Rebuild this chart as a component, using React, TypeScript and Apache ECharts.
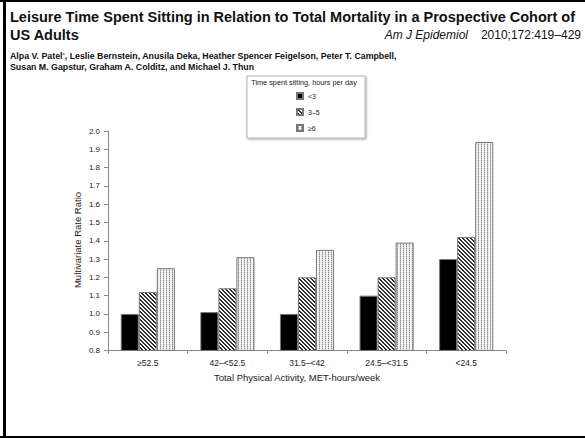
import React, { useEffect, useRef } from "react";
import * as echarts from "echarts";

// Total physical activity groups (MET-hours/week)
const categories = ["≥52.5", "42–<52.5", "31.5–<42", "24.5–<31.5", "<24.5"];
// Time spent sitting, hours per day
const seriesNames = ["<3", "3–5", "≥6"];
const sitLessThan3 = [1.0, 1.01, 1.0, 1.1, 1.3];
const sit3to5 = [1.12, 1.14, 1.2, 1.2, 1.42];
const sit6plus = [1.25, 1.31, 1.35, 1.39, 1.94];

const yMin = 0.8;
const yMax = 2.0;
const yStep = 0.1;

const FONT = "'Liberation Sans', Arial, Helvetica, sans-serif";

// Small repeating tiles used to fill the bars
function tile(w: number, h: number, paint: (x: number, y: number) => string) {
  const c = document.createElement("canvas");
  c.width = w;
  c.height = h;
  const g = c.getContext("2d")!;
  for (let y = 0; y < h; y++) {
    for (let x = 0; x < w; x++) {
      g.fillStyle = paint(x, y);
      g.fillRect(x, y, 1, 1);
    }
  }
  return {
    image: c.toDataURL(),
    repeat: "repeat",
    imageWidth: w,
    imageHeight: h,
  } as any;
}

export default function App() {
  const ref = useRef<HTMLDivElement>(null);

  useEffect(() => {
    if (!ref.current) return;
    const chart = echarts.init(ref.current, undefined, { renderer: "svg" });

    const hatch = tile(4, 4, (x, y) => (((x - y + 8) % 4) < 2 ? "#2e2e2e" : "#ffffff"));
    const dots = tile(3, 2, (x, y) => (x === 1 ? (y === 0 ? "#8a8a8a" : "#c8c8c8") : "#f2f2f2"));

    const barStyle = (color: any) => ({
      color,
      borderColor: "#777",
      borderWidth: 1,
    });

    const text = (
      t: string,
      x: number,
      y: number,
      size: number,
      extra: Record<string, any> = {}
    ) => ({
      type: "text",
      x,
      y,
      z: 10,
      style: {
        text: t,
        fill: "#111",
        fontFamily: FONT,
        fontSize: size,
        textAlign: "left",
        textVerticalAlign: "middle",
        ...extra,
      },
    });

    chart.setOption({
      animation: false,
      backgroundColor: "#ffffff",
      grid: { left: 108, right: 79, top: 131, bottom: 87.5 },
      xAxis: {
        type: "category",
        data: categories,
        axisLine: { lineStyle: { color: "#888", width: 1 } },
        axisTick: { show: true, length: 3, lineStyle: { color: "#888" } },
        axisLabel: { color: "#222", fontFamily: FONT, fontSize: 8.5, margin: 8 },
      },
      yAxis: {
        type: "value",
        min: yMin,
        max: yMax,
        interval: yStep,
        axisLine: { show: true, lineStyle: { color: "#888", width: 1 } },
        axisTick: { show: true, length: 4, lineStyle: { color: "#888" } },
        splitLine: { show: false },
        axisLabel: {
          color: "#222",
          fontFamily: FONT,
          fontSize: 8,
          margin: 8,
          formatter: (v: number) => v.toFixed(1),
        },
      },
      legend: {
        orient: "vertical",
        left: 296,
        top: 92,
        padding: 0,
        itemWidth: 6,
        itemHeight: 6,
        itemGap: 8,
        icon: "rect",
        data: seriesNames,
        textStyle: { fontFamily: FONT, fontSize: 7, color: "#222", lineHeight: 8 },
      },
      series: [
        {
          name: seriesNames[0],
          type: "bar",
          data: sitLessThan3,
          barGap: "0%",
          barCategoryGap: "32%",
          itemStyle: barStyle("#000000"),
        },
        {
          name: seriesNames[1],
          type: "bar",
          data: sit3to5,
          barGap: "0%",
          barCategoryGap: "32%",
          itemStyle: barStyle(hatch),
        },
        {
          name: seriesNames[2],
          type: "bar",
          data: sit6plus,
          barGap: "0%",
          barCategoryGap: "32%",
          itemStyle: barStyle(dots),
        },
      ],
      graphic: [
        // page frame
        { type: "rect", z: 20, shape: { x: 0, y: 0, width: 585, height: 2 }, style: { fill: "#000" } },
        { type: "rect", z: 20, shape: { x: 3, y: 0, width: 3, height: 438 }, style: { fill: "#000" } },
        { type: "rect", z: 20, shape: { x: 0, y: 436, width: 585, height: 2 }, style: { fill: "#000" } },
        // legend box
        {
          type: "rect",
          z: 0,
          shape: { x: 247, y: 76, width: 118, height: 62 },
          style: {
            fill: "#fff",
            stroke: "#b5b5b5",
            lineWidth: 1,
            shadowBlur: 2,
            shadowOffsetX: 1,
            shadowOffsetY: 1,
            shadowColor: "rgba(0,0,0,0.35)",
          },
        },
        text("Time spent sitting, hours per day", 304, 82.5, 7.3, { textAlign: "center", fill: "#222" }),
        // heading
        text(
          "Leisure Time Spent Sitting in Relation to Total Mortality in a Prospective Cohort of",
          10,
          16.5,
          14.5,
          { fontWeight: "bold" }
        ),
        text("US Adults", 10, 34.5, 14.5, { fontWeight: "bold" }),
        text("Am J Epidemiol", 468, 34.5, 12, { textAlign: "right", fontStyle: "italic" }),
        text("2010;172:419–429", 581, 34.5, 12, { textAlign: "right" }),
        {
          type: "text",
          x: 10,
          y: 56,
          z: 10,
          style: {
            text:
              "{b|Alpa V. Patel}{s|*}{b|, Leslie Bernstein, Anusila Deka, Heather Spencer Feigelson, Peter T. Campbell,}",
            textVerticalAlign: "middle",
            rich: {
              b: { fontFamily: FONT, fontSize: 8.8, fontWeight: "bold", fill: "#111" },
              s: { fontFamily: FONT, fontSize: 6, fontWeight: "bold", fill: "#555", verticalAlign: "top" },
            },
          },
        },
        text("Susan M. Gapstur, Graham A. Colditz, and Michael J. Thun", 10, 66.5, 8.8, { fontWeight: "bold" }),
        // axis titles
        {
          ...text("Multivariate Rate Ratio", 77, 240, 9.5, { textAlign: "center", fill: "#222" }),
          rotation: Math.PI / 2,
        },
        text("Total Physical Activity, MET-hours/week", 297, 377, 9.5, {
          textAlign: "center",
          fill: "#222",
        }),
      ],
    });

    return () => chart.dispose();
  }, []);

  return (
    <div
      ref={ref}
      style={{ position: "absolute", left: 0, top: 0, width: 585, height: 438, background: "#fff" }}
    />
  );
}
